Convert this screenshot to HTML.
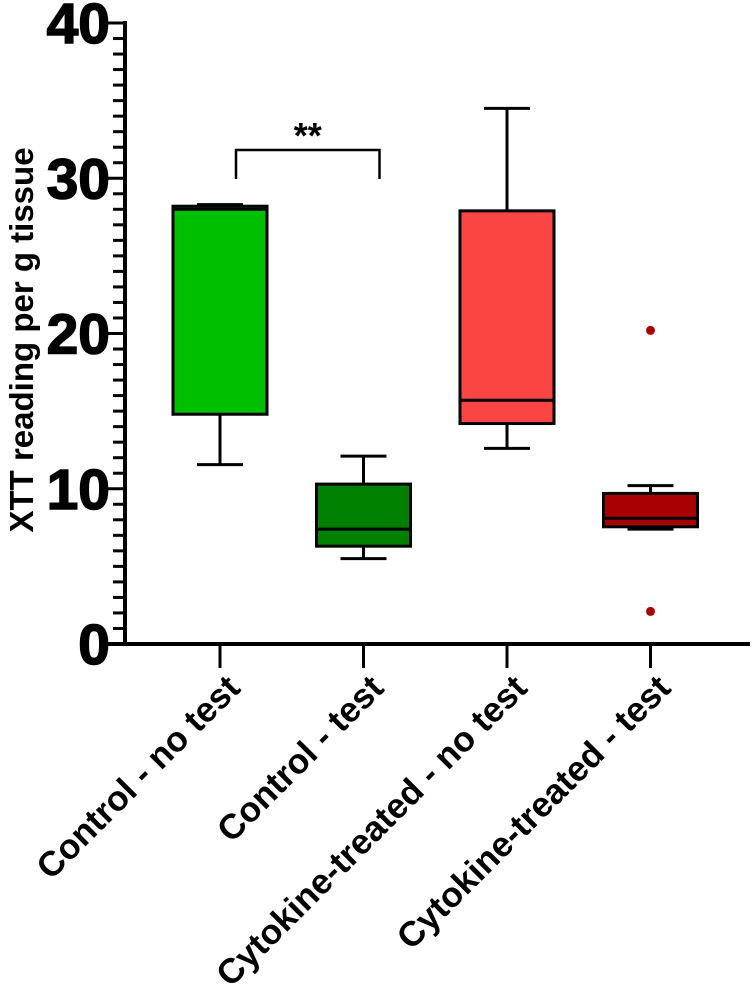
<!DOCTYPE html>
<html><head><meta charset="utf-8"><style>
html,body{margin:0;padding:0;background:#fff;width:754px;height:991px;overflow:hidden}
svg{display:block;font-family:"Liberation Sans",Arial,sans-serif}
</style></head><body>
<svg id="chart" width="754" height="991" viewBox="0 0 754 991" xmlns="http://www.w3.org/2000/svg"></svg>
<script>
const categories = ["Control - no test","Control - test","Cytokine-treated - no test","Cytokine-treated - test"];
const whiskerMin = [11.55, 5.5, 12.6, 7.4];
const q1Values = [14.8, 6.3, 14.2, 7.55];
const medianValues = [28.0, 7.4, 15.7, 8.1];
const q3Values = [28.2, 10.3, 27.9, 9.7];
const whiskerMax = [28.3, 12.1, 34.5, 10.2];
const outlierGroup = [3, 3];
const outlierValues = [20.2, 2.1];
const fillColors = ["#00bf00","#008000","#fb4444","#a80000"];
const yTicks = [0,10,20,30,40];

const svg = document.getElementById('chart');
const NS = 'http://www.w3.org/2000/svg';
const y0 = 644, yTop = 23, yMax = 40;
function yScale(v){ return y0 - (v / yMax) * (y0 - yTop); }
function xScale(i){ return 220 + i * 143.5; }
function mk(tag, attrs, parent){
  const e = document.createElementNS(NS, tag);
  for (const k in attrs) e.setAttribute(k, attrs[k]);
  (parent || svg).appendChild(e);
  return e;
}
const yAxis = mk('line',{x1:125,y1:yTop-2,x2:125,y2:y0+2,stroke:'#000','stroke-width':4});


const xAxis = mk('line',{x1:108,y1:y0,x2:750,y2:y0,stroke:'#000','stroke-width':4});


for (let v = 0; v <= yMax; v++){
  const major = v % 10 === 0;
  const t = mk('line',{x1:major?108:113,y1:yScale(v),x2:125,y2:yScale(v),stroke:'#000','stroke-width':3});
  
  
}
yTicks.forEach(v=>{
  const t = mk('text',{x:110,y:yScale(v)+20,'text-anchor':'end','font-size':57,'font-weight':'bold','stroke':'#000','stroke-width':1.5});
  t.textContent = v;
  
  
});
const yt = mk('text',{x:0,y:0,transform:'translate(33,340) rotate(-90)','text-anchor':'middle','font-size':33,'font-weight':'bold'});
yt.textContent = 'XTT reading per g tissue';



const bw = 94, cw = 46;
categories.forEach((c,i)=>{
  const cx = xScale(i);
  const g = mk('g',{});
  
  
  const tk = mk('line',{x1:cx,y1:y0,x2:cx,y2:668,stroke:'#000','stroke-width':3});
  
  
  mk('line',{x1:cx,y1:yScale(whiskerMax[i]),x2:cx,y2:yScale(whiskerMin[i]),stroke:'#000','stroke-width':3},g);
  mk('line',{x1:cx-cw/2,y1:yScale(whiskerMax[i]),x2:cx+cw/2,y2:yScale(whiskerMax[i]),stroke:'#000','stroke-width':3},g);
  mk('line',{x1:cx-cw/2,y1:yScale(whiskerMin[i]),x2:cx+cw/2,y2:yScale(whiskerMin[i]),stroke:'#000','stroke-width':3},g);
  mk('rect',{x:cx-bw/2,y:yScale(q3Values[i]),width:bw,height:yScale(q1Values[i])-yScale(q3Values[i]),fill:fillColors[i],stroke:'#000','stroke-width':3},g);
  mk('line',{x1:cx-bw/2,y1:yScale(medianValues[i]),x2:cx+bw/2,y2:yScale(medianValues[i]),stroke:'#000','stroke-width':3},g);
  const lab = mk('text',{x:0,y:0,transform:`translate(${cx+22},${690}) rotate(-45)`,'text-anchor':'end','font-size':35,'font-weight':'bold'});
  lab.textContent = c;
  
  
});
outlierValues.forEach((v,k)=>{
  const d = mk('circle',{cx:xScale(outlierGroup[k]),cy:yScale(v),r:4.5,fill:'#a80000'});
  
  
});
const br = mk('path',{d:`M${xScale(0)+16},179 V150 H${xScale(1)+16} V179`,fill:'none',stroke:'#000','stroke-width':2.5});


const st = mk('text',{x:(xScale(0)+xScale(1))/2+16,y:148,'text-anchor':'middle','font-size':36,'font-weight':'bold'});
st.textContent = '**';


</script>
</body></html>
